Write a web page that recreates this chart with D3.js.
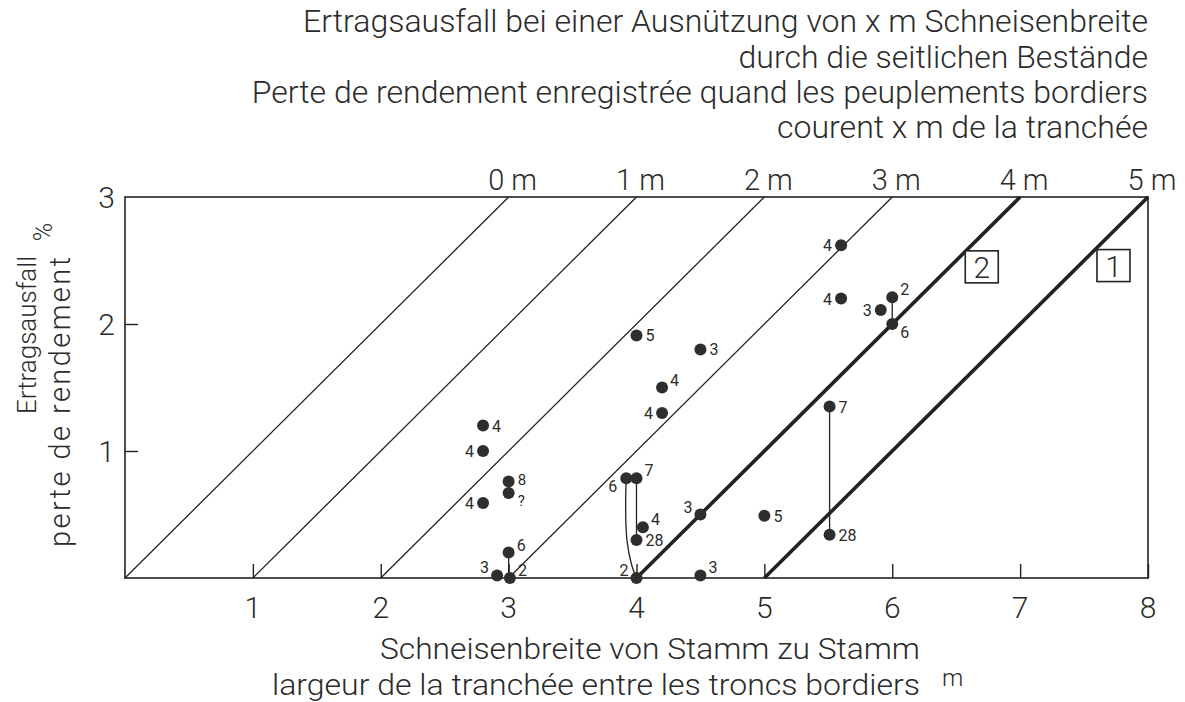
<!DOCTYPE html>
<html>
<head>
<meta charset="utf-8">
<script src="https://d3js.org/d3.v7.min.js"></script>
<style>
  html, body { margin: 0; padding: 0; background: #fff; }
  svg { display: block; }
  text { font-family: Roboto, "Open Sans", "DejaVu Sans", sans-serif; font-weight: 300; fill: #2b2b2b; }
</style>
</head>
<body>
<svg id="chart" width="1185" height="702"></svg>
<script>
// ---------- data ----------
const titleLines = [
  "Ertragsausfall bei einer Ausnützung von x m Schneisenbreite",
  "durch die seitlichen Bestände",
  "Perte de rendement enregistrée quand les peuplements bordiers",
  "courent x m de la tranchée"
];
const xTitleLines = [
  "Schneisenbreite von Stamm zu Stamm",
  "largeur de la tranchée entre les troncs bordiers"
];
const xUnit = "m";
const yTitleLines = ["Ertragsausfall", "perte de rendement"];
const yUnit = "%";

const xTicks = [1, 2, 3, 4, 5, 6, 7, 8];
const yTicks = [1, 2, 3];

// reference lines: loss = width - k  (k = metres used by adjoining stands)
const refOffsets = [0, 1, 2, 3, 4, 5];
const refLabels  = ["0 m", "1 m", "2 m", "3 m", "4 m", "5 m"];
const refBold    = [false, false, false, false, true, true];

// boxed curve labels
const boxLabels = ["2", "1"];
const boxX      = [6.70, 7.73];
const boxY      = [2.45, 2.46];

// observed points: width (m), loss (%), annotation
const pointX = [2.80, 2.80, 2.80, 3.00, 3.00, 3.00, 2.91, 3.01,
                4.00, 4.50, 4.20, 4.20, 3.92, 4.00, 4.05, 4.00, 4.00, 4.50, 4.50, 5.00,
                5.60, 5.60, 6.00, 5.91, 6.00, 5.51, 5.51];
const pointY = [1.20, 1.00, 0.59, 0.76, 0.67, 0.20, 0.02, 0.00,
                1.91, 1.80, 1.50, 1.30, 0.785, 0.785, 0.40, 0.30, 0.00, 0.50, 0.02, 0.49,
                2.62, 2.20, 2.21, 2.11, 2.00, 1.35, 0.34];
const pointN = ["4", "4", "4", "8", "?", "6", "3", "2",
                "5", "3", "4", "4", "6", "7", "4", "28", "2", "3", "3", "5",
                "4", "4", "2", "3", "6", "7", "28"];
// where each annotation sits relative to its point
const labelSide = ["r", "l", "l", "ru", "rd", "ur", "ul", "ur",
                   "r", "r", "ur", "l", "dl", "ur", "ur", "r", "ul", "ul", "ur", "r",
                   "l", "l", "ur", "l", "dr", "r", "r"];

// connecting lines between repeated observations
const connectors = [
  [[3.00, 0.20], [3.00, 0.00]],
  [[4.00, 0.785], [4.00, 0.30]],
  [[6.00, 2.21], [6.00, 2.00]],
  [[5.51, 1.35], [5.51, 0.34]]
];
// curved connector
const curvedConnector = [[3.92, 0.785], [3.915, 0.55], [3.925, 0.30], [3.96, 0.11], [4.00, 0.00]];

// ---------- layout ----------
const svg = d3.select("#chart");
const M = { left: 125, right: 1148, top: 197, bottom: 578 };
const x = d3.scaleLinear().domain([0, 8]).range([M.left, M.right]);
const y = d3.scaleLinear().domain([0, 3]).range([M.bottom, M.top]);
const ink = "#222";

// title (right aligned)
const titleBase = [32, 68, 103, 138];
svg.selectAll("text.title").data(titleLines).join("text")
  .attr("class", "title")
  .attr("x", M.right).attr("y", (d, i) => titleBase[i])
  .attr("text-anchor", "end")
  .attr("font-size", 32)
  .text(d => d);

// reference diagonal lines
const g = svg.append("g");
refOffsets.forEach((k, i) => {
  g.append("line")
    .attr("x1", x(k)).attr("y1", y(0))
    .attr("x2", x(k + 3)).attr("y2", y(3))
    .attr("stroke", ink)
    .attr("stroke-width", refBold[i] ? 3.6 : 1.3);
  g.append("text")
    .attr("x", x(k + 3) + 4).attr("y", M.top - 7)
    .attr("text-anchor", "middle")
    .attr("font-size", 29)
    .text(refLabels[i]);
});

// frame
g.append("rect")
  .attr("x", M.left).attr("y", M.top)
  .attr("width", M.right - M.left).attr("height", M.bottom - M.top)
  .attr("fill", "none").attr("stroke", ink).attr("stroke-width", 1.6);

// x axis (ticks inward)
const xAxis = d3.axisTop(x).tickValues(xTicks).tickSize(14).tickFormat("");
const xa = g.append("g").attr("transform", `translate(0,${M.bottom})`).call(xAxis);
xa.select(".domain").remove();
xa.selectAll("line").attr("stroke", ink).attr("stroke-width", 1.4);
g.selectAll("text.xt").data(xTicks).join("text")
  .attr("class", "xt")
  .attr("x", d => x(d)).attr("y", M.bottom + 40)
  .attr("text-anchor", "middle").attr("font-size", 30)
  .text(d => d);

// y axis (ticks inward)
const yAxis = d3.axisRight(y).tickValues([1, 2]).tickSize(13).tickFormat("");
const ya = g.append("g").attr("transform", `translate(${M.left},0)`).call(yAxis);
ya.select(".domain").remove();
ya.selectAll("line").attr("stroke", ink).attr("stroke-width", 1.4);
g.selectAll("text.yt").data(yTicks).join("text")
  .attr("class", "yt")
  .attr("x", M.left - 10).attr("y", d => y(d) + 11)
  .attr("text-anchor", "end").attr("font-size", 30)
  .text(d => d);

// axis titles
const xtBase = [659, 695];
const xtLen  = [540, 648];
svg.selectAll("text.xtitle").data(xTitleLines).join("text")
  .attr("class", "xtitle")
  .attr("x", 920).attr("y", (d, i) => xtBase[i])
  .attr("text-anchor", "end").attr("font-size", 30)
  .attr("textLength", (d, i) => xtLen[i])
  .attr("lengthAdjust", "spacingAndGlyphs")
  .text(d => d);
svg.append("text").attr("x", 942).attr("y", 686).attr("font-size", 24).text(xUnit);

// rotated y title
svg.append("text")
  .attr("transform", "translate(36,414) rotate(-90)")
  .attr("text-anchor", "start").attr("font-size", 26)
  .text(yTitleLines[0]);
svg.append("text")
  .attr("transform", "translate(70,547) rotate(-90)")
  .attr("text-anchor", "start").attr("font-size", 29)
  .attr("textLength", 290).attr("lengthAdjust", "spacing")
  .text(yTitleLines[1]);
svg.append("text")
  .attr("transform", "translate(52,232) rotate(-90)")
  .attr("text-anchor", "middle").attr("font-size", 25)
  .text(yUnit);

// boxed labels
boxLabels.forEach((b, i) => {
  const cx = x(boxX[i]), cy = y(boxY[i]);
  g.append("rect").attr("x", cx - 16.5).attr("y", cy - 16)
    .attr("width", 33).attr("height", 32)
    .attr("fill", "#fff").attr("stroke", ink).attr("stroke-width", 1.6);
  g.append("text").attr("x", cx).attr("y", cy + 11)
    .attr("text-anchor", "middle").attr("font-size", 30).text(b);
});

// connectors
connectors.forEach(c => {
  g.append("path").attr("d", d3.line().x(d => x(d[0])).y(d => y(d[1]))(c))
    .attr("fill", "none").attr("stroke", ink).attr("stroke-width", 1.3);
});
g.append("path")
  .attr("d", d3.line().x(d => x(d[0])).y(d => y(d[1])).curve(d3.curveCatmullRom)(curvedConnector))
  .attr("fill", "none").attr("stroke", ink).attr("stroke-width", 1.3);

// points
const pts = pointX.map((px, i) => ({ x: px, y: pointY[i], n: pointN[i], s: labelSide[i] }));
g.selectAll("circle.pt").data(pts).join("circle")
  .attr("class", "pt")
  .attr("cx", d => x(d.x)).attr("cy", d => y(d.y)).attr("r", 6)
  .attr("fill", "#2e2e2e");

const off = {
  r:  [9, 6, "start"],
  ru: [9, 4, "start"],
  rd: [9, 13, "start"],
  l:  [-9, 6, "end"],
  ur: [8, -2, "start"],
  ul: [-8, -2, "end"],
  dr: [8, 14, "start"],
  dl: [-9, 14, "end"]
};
g.selectAll("text.pl").data(pts).join("text")
  .attr("class", "pl")
  .attr("x", d => x(d.x) + off[d.s][0])
  .attr("y", d => y(d.y) + off[d.s][1])
  .attr("text-anchor", d => off[d.s][2])
  .attr("font-size", d => (d.s === "ru" || d.s === "rd") ? 15 : 16)
  .style("font-weight", 400)
  .text(d => d.n);
</script>
</body>
</html>
